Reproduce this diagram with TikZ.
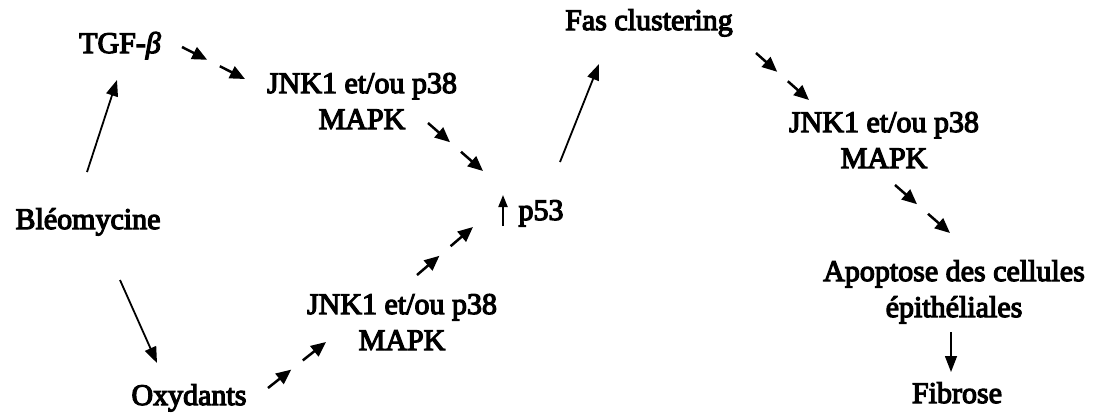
\documentclass[tikz,border=0pt]{standalone}
\usepackage{fontspec}
\setmainfont{Liberation Serif}[UprightFeatures={FakeBold=4}, ItalicFeatures={FakeBold=4}]
\usetikzlibrary{arrows.meta,calc}
\tikzset{
  lab/.style={inner sep=0pt, font=\fontsize{30}{36}\selectfont, align=center, anchor=base},
  arr/.style={line width=1.8pt, -{Triangle[length=16pt,width=12pt]}},
  sarr/.style={line width=2.5pt, -{Triangle[length=15pt,width=13pt]}},
  uparr/.style={line width=2pt, -{Triangle[length=12pt,width=9pt]}},
}
% two short arrows in a row between two points
\newcommand\twinarrow[2]{%
  \draw[sarr] (#1) -- ($(#1)!0.4!(#2)$);
  \draw[sarr] ($(#1)!0.6!(#2)$) -- (#2);}
\begin{document}
\begin{tikzpicture}[x=1pt,y=-1pt]
\useasboundingbox (0,0) rectangle (1102,416);

% labels (two-line labels sit on the baseline of their last line)
\node[lab] (tgf)  at (120,53)  {TGF-{\itshape β}};
\node[lab] (jnkT) at (362,129) {JNK1 et/ou p38\\MAPK};
\node[lab] (bleo) at (88,229)  {Bléomycine};
\node[lab] (p53)  at (541,220) {p53};
\node[lab] (oxy)  at (189,405) {Oxydants};
\node[lab] (jnkB) at (402,350) {JNK1 et/ou p38\\MAPK};
\node[lab] (fas)  at (649,30)  {Fas clustering};
\node[lab] (jnkR) at (884,168) {JNK1 et/ou p38\\MAPK};
\node[lab] (apop) at (954,317) {Apoptose des cellules\\épithéliales};
\node[lab] (fib)  at (957,403) {Fibrose};

% connector ends
\coordinate (bt0) at (87,172);  \coordinate (bt1) at (117,80);
\coordinate (bo0) at (120,280); \coordinate (bo1) at (157,363);
\coordinate (tj0) at (182,47);  \coordinate (tj1) at (245,79);
\coordinate (jp0) at (428,123); \coordinate (jp1) at (483,171);
\coordinate (oj0) at (268,388); \coordinate (oj1) at (326,342);
\coordinate (bp0) at (417,275); \coordinate (bp1) at (473,227);
\coordinate (pf0) at (560,162); \coordinate (pf1) at (599,64);
\coordinate (fj0) at (756,53);  \coordinate (fj1) at (809,100);
\coordinate (ja0) at (895,185); \coordinate (ja1) at (950,233);
\coordinate (af0) at (951,332); \coordinate (af1) at (951,372);
\coordinate (up0) at (503,226); \coordinate (up1) at (503,195);

% single arrows
\draw[arr] (bt0) -- (bt1);
\draw[arr] (bo0) -- (bo1);
\draw[arr] (pf0) -- (pf1);
\draw[arr, line width=1.4pt] (af0) -- (af1);
\draw[uparr] (up0) -- (up1);

% paired short arrows
\twinarrow{tj0}{tj1}
\twinarrow{jp0}{jp1}
\twinarrow{oj0}{oj1}
\twinarrow{bp0}{bp1}
\twinarrow{fj0}{fj1}
\twinarrow{ja0}{ja1}
\end{tikzpicture}
\end{document}
